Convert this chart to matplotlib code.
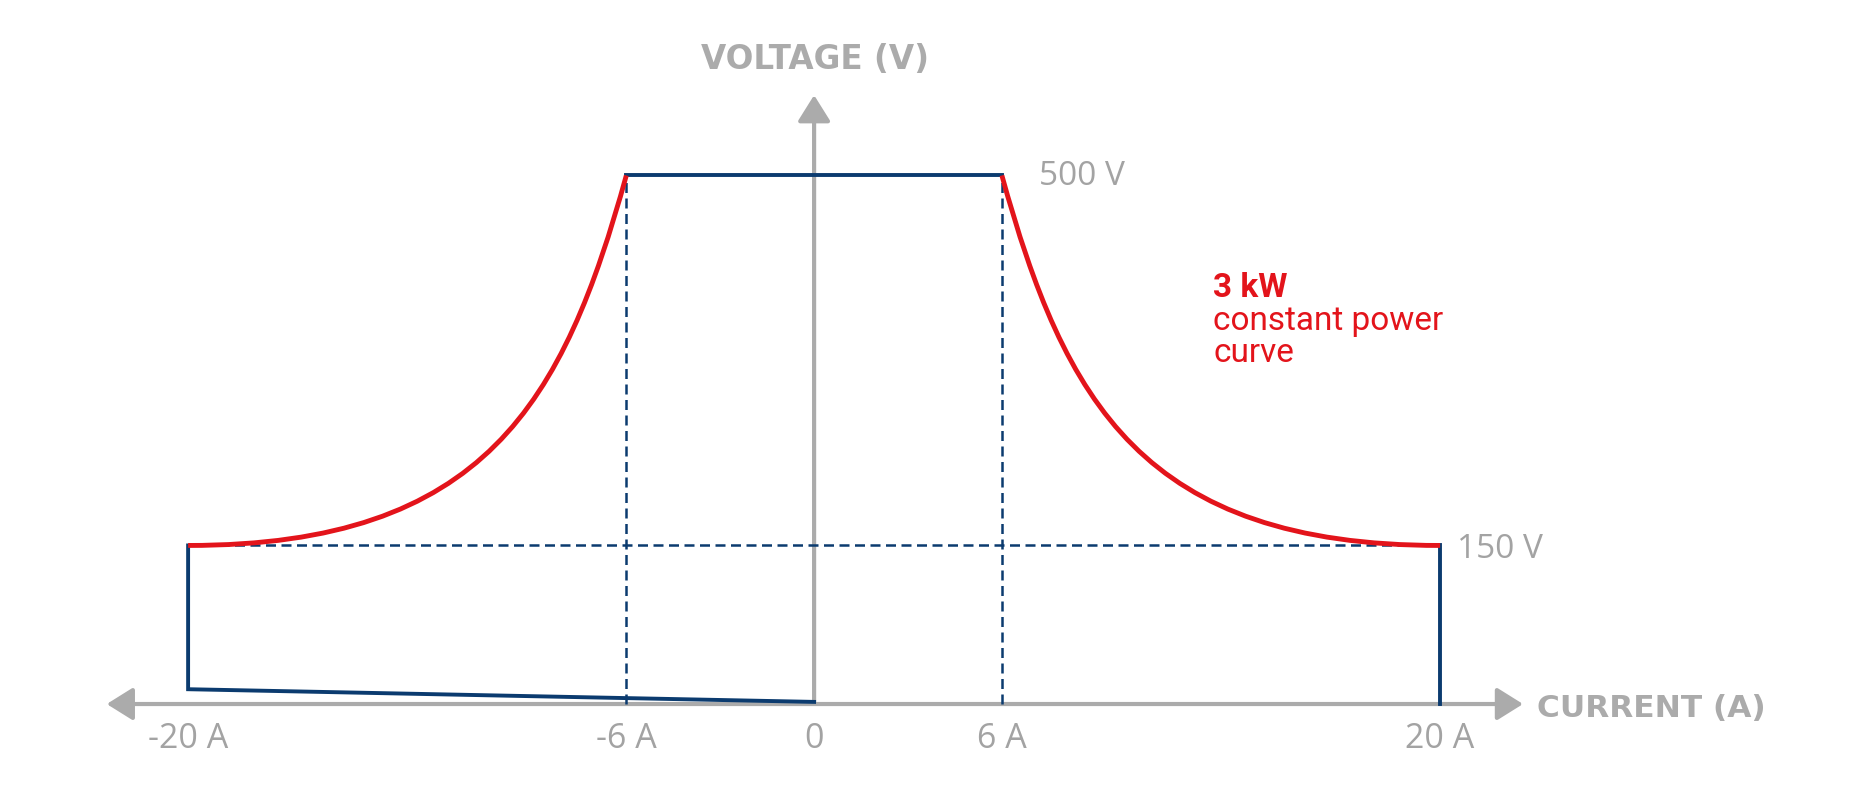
import matplotlib.pyplot as plt
from matplotlib.patches import PathPatch
from matplotlib.path import Path

# operating envelope of the 3 kW unit
v_max = 500
v_min = 150
i_knee = 6
i_max = 20
sink_left = [14, 2]          # bottom edge voltage at -20 A and at 0 A

# constant power curve, drawn as a cubic bezier (control points)
curve_i = [6, 8, 10.5, 20]
curve_v = [500, 286, 150, 150]

current_ticks = [-20, -6, 0, 6, 20]
tick_labels = ["-20 A", "-6 A", "0", "6 A", "20 A"]

BLUE = "#0b3b6f"
RED = "#e3141b"
GRAY = "#ababab"
TXT = "#a3a3a3"

fig = plt.figure(figsize=(18.57, 8), dpi=100)
ax = fig.add_axes([0, 0, 1, 1])
ax.set_xlim(-26.01, 33.32)
ax.set_ylim(-90.8, 666.0)
ax.axis("off")

# axes with arrow heads
ax.annotate("", xy=(22.65, 0), xytext=(-22.6, 0),
            arrowprops=dict(arrowstyle="<|-|>,head_length=0.8,head_width=0.5",
                            mutation_scale=20, lw=3, color=GRAY,
                            shrinkA=0, shrinkB=0), zorder=1)
ax.annotate("", xy=(0, 576), xytext=(0, 0),
            arrowprops=dict(arrowstyle="-|>,head_length=0.8,head_width=0.5",
                            mutation_scale=20, lw=3, color=GRAY,
                            shrinkA=0, shrinkB=0), zorder=1)

# constant power curves, right and mirrored left
codes = [Path.MOVETO, Path.CURVE4, Path.CURVE4, Path.CURVE4]
for sign in (1, -1):
    verts = [(sign * i, v) for i, v in zip(curve_i, curve_v)]
    ax.add_patch(PathPatch(Path(verts, codes), fill=False, ec=RED, lw=3.5,
                           capstyle="butt", zorder=4))

# envelope in blue
ax.plot([-i_knee, i_knee], [v_max, v_max], color=BLUE, lw=2.8, zorder=3)
ax.plot([i_max, i_max], [v_min, 0], color=BLUE, lw=2.8, zorder=3)
ax.plot([-i_max, -i_max, 0], [v_min, sink_left[0], sink_left[1]],
        color=BLUE, lw=2.8, zorder=3, solid_joinstyle="miter")

# guide lines
dash = (0, (4, 2.2))
ax.plot([-i_max, i_max], [v_min, v_min], color=BLUE, lw=1.8, ls=dash, zorder=2)
for i in (-i_knee, i_knee):
    ax.plot([i, i], [0, v_max], color=BLUE, lw=1.8, ls=dash, zorder=2)

# labels
for x, lab in zip(current_ticks, tick_labels):
    ax.text(x, -33, lab, ha="center", va="center", fontsize=24.5,
            family="Open Sans", color=TXT)
ax.text(7.19, 499, "500 V", ha="left", va="center", fontsize=24,
        family="Open Sans", color=TXT)
ax.text(20.54, 146, "150 V", ha="left", va="center", fontsize=24,
        family="Open Sans", color=TXT)

ax.text(0.03, 610, "VOLTAGE (V)", ha="center", va="center", fontsize=23.5,
        fontweight="bold", color=GRAY)
ax.text(23.1, -4, "CURRENT (A)", ha="left", va="center", fontsize=22.5,
        fontweight="bold", color=GRAY)

ax.text(12.75, 385, "3 kW", ha="left", va="baseline", fontsize=24,
        family="Roboto", fontweight="bold", color=RED)
ax.text(12.75, 354, "constant power", ha="left", va="baseline", fontsize=24,
        family="Roboto", color=RED)
ax.text(12.75, 323.5, "curve", ha="left", va="baseline", fontsize=24,
        family="Roboto", color=RED)

fig.savefig("out.png", dpi=100, facecolor="white")
